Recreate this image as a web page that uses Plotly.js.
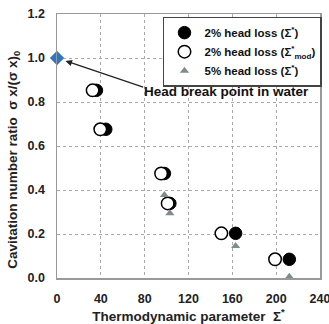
<!DOCTYPE html>
<html><head><meta charset="utf-8">
<script src="https://cdn.plot.ly/plotly-3.0.1.min.js"></script>
<style>html,body{margin:0;padding:0;background:#fff}#c{width:329px;height:324px}</style>
</head><body><div id="c"></div>
<script>
var filledX = [36, 44.5, 98, 103, 163, 212];
var filledY = [0.853, 0.676, 0.475, 0.339, 0.203, 0.085];
var openX = [32.5, 39.5, 95, 101, 150, 199];
var openY = [0.853, 0.676, 0.475, 0.339, 0.203, 0.085];
var triX = [98, 103, 163, 212];
var triY = [0.377, 0.294, 0.145, 0.006];
var waterX = [0];
var waterY = [1.0];
var xTicks = [0, 40, 80, 120, 160, 200, 240];
var yTicks = [0.0, 0.2, 0.4, 0.6, 0.8, 1.0, 1.2];

var F = 'Liberation Sans, Arial, sans-serif';
var traces = [
  {x: filledX, y: filledY, mode: 'markers', type: 'scatter', name: '2% head loss (Σ<sup>*</sup>)',
   marker: {symbol: 'circle', size: 12.5, color: '#000', line: {color: '#000', width: 1}}},
  {x: openX, y: openY, mode: 'markers', type: 'scatter', name: '2% head loss (Σ<sup>*</sup><sub>mod</sub>)',
   marker: {symbol: 'circle', size: 12.5, color: '#fff', line: {color: '#000', width: 1.5}}},
  {x: triX, y: triY, mode: 'markers', type: 'scatter', name: '5% head loss (Σ<sup>*</sup>)',
   marker: {symbol: 'triangle-up', size: 8, color: '#7f8c8c', line: {width: 0}}, cliponaxis: false},
  {x: waterX, y: waterY, mode: 'markers', type: 'scatter', showlegend: false,
   marker: {symbol: 'diamond', size: 11, color: '#2e75c6', line: {width: 0}}, cliponaxis: false}
];
var layout = {
  width: 329, height: 324,
  margin: {l: 57, r: 9, t: 14, b: 46, autoexpand: false},
  paper_bgcolor: '#fff', plot_bgcolor: '#fff',
  font: {family: F, color: '#222', size: 12},
  showlegend: true,
  legend: {x: 0.403, y: 0.99, xanchor: 'left', yanchor: 'top', bgcolor: '#fff',
           bordercolor: '#444', borderwidth: 1.5, font: {family: F, size: 11.5, color: '#111', weight: 'bold'},
           tracegroupgap: 0, itemwidth: 30},
  xaxis: {range: [0, 240], tickvals: xTicks, ticktext: xTicks.map(String), showgrid: true, automargin: false,
          ticklabeloverflow: 'allow',
          gridcolor: '#aaa', griddash: 'dot', gridwidth: 1, zeroline: false,
          showline: true, linecolor: '#999', linewidth: 1.5, mirror: true, ticks: '', ticklabelstandoff: 8,
          tickfont: {family: F, size: 12.5, color: '#222', weight: 'bold'},
          title: {text: 'Thermodynamic parameter  Σ<sup>*</sup>', font: {family: F, size: 13.5, color: '#222', weight: 'bold'}, standoff: 10}},
  yaxis: {range: [0, 1.2], tickvals: yTicks, ticktext: yTicks.map(function(v){return v.toFixed(1);}), showgrid: true, automargin: false,
          ticklabeloverflow: 'allow',
          gridcolor: '#aaa', griddash: 'dot', gridwidth: 1, zeroline: false,
          showline: true, linecolor: '#999', linewidth: 1.5, mirror: true, ticks: '', ticklabelstandoff: 8,
          tickfont: {family: F, size: 12.5, color: '#222', weight: 'bold'}},
  annotations: [
    {x: -0.205, y: 0.446, xref: 'paper', yref: 'paper', textangle: -90, showarrow: false,
     text: '<b>Cavitation number ratio  σ x/(σ x)<sub>0</sub></b>', font: {family: F, size: 13.5, color: '#222'}},
    {x: 0, y: 1.0, xref: 'x', yref: 'y', ax: 80, ay: 0.865, axref: 'x', ayref: 'y', text: '',
     showarrow: true, arrowhead: 2, arrowsize: 1, arrowwidth: 1.3, arrowcolor: '#222', standoff: 9},
    {x: 155, y: 0.85, xref: 'x', yref: 'y', text: '<b>Head break point in water</b>', showarrow: false,
     font: {family: F, size: 13.5, color: '#111'}}
  ]
};
Plotly.newPlot('c', traces, layout, {displayModeBar: false, staticPlot: true});
</script></body></html>
